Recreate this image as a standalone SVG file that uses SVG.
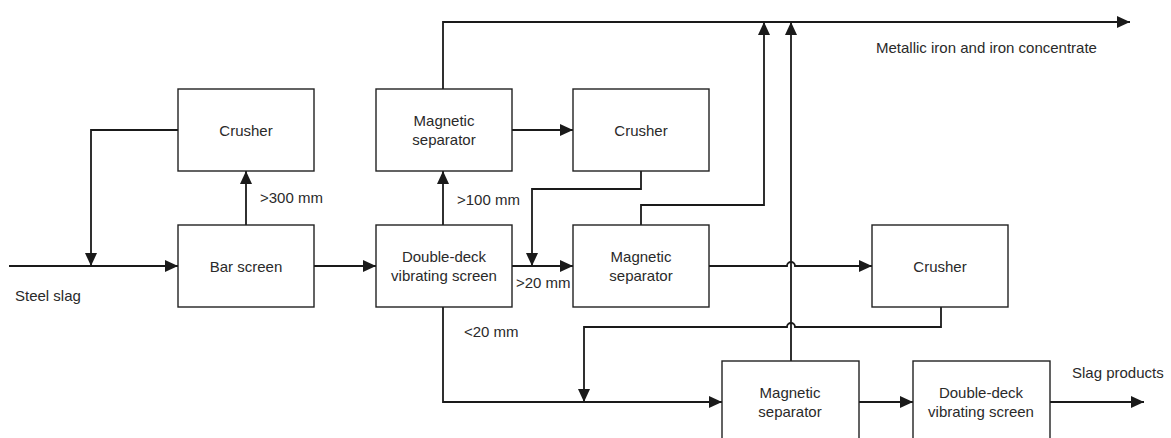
<svg xmlns="http://www.w3.org/2000/svg" width="1171" height="438" viewBox="0 0 1171 438">
<style>
.box{fill:#fff;stroke:#222;stroke-width:1.4}
.c{fill:none;stroke:#1a1a1a;stroke-width:1.8}
text{font-family:"Liberation Sans",Arial,sans-serif;font-size:15px;fill:#2a2a2a}
.m{text-anchor:middle}
</style>
<defs>
<marker id="ah" markerUnits="userSpaceOnUse" markerWidth="13" markerHeight="12" refX="13" refY="6" orient="auto">
<path d="M0,0 L13,6 L0,12 z" fill="#1a1a1a"/>
</marker>
</defs>
<rect width="1171" height="438" fill="#fff"/>
<g id="connectors">
<path class="c" d="M9,266 H178" marker-end="url(#ah)"/>
<path class="c" d="M246,225 V171" marker-end="url(#ah)"/>
<path class="c" d="M178,130 H91 V266" marker-end="url(#ah)"/>
<path class="c" d="M314,266 H376" marker-end="url(#ah)"/>
<path class="c" d="M443,225 V171" marker-end="url(#ah)"/>
<path class="c" d="M443,89 V22 H1130" marker-end="url(#ah)"/>
<path class="c" d="M512,130 H573" marker-end="url(#ah)"/>
<path class="c" d="M641,171 V189 H532 V266" marker-end="url(#ah)"/>
<path class="c" d="M512,266 H573" marker-end="url(#ah)"/>
<path class="c" d="M641,225 V205 H764 V22" marker-end="url(#ah)"/>
<path class="c" d="M709,266 H787 A4,4 0 0 1 795,266 H872" marker-end="url(#ah)"/>
<path class="c" d="M941,307 V327 H795 A4,4 0 0 0 787,327 H584 V402" marker-end="url(#ah)"/>
<path class="c" d="M443,307 V402 H722" marker-end="url(#ah)"/>
<path class="c" d="M791,361 V22" marker-end="url(#ah)"/>
<path class="c" d="M859,402 H913" marker-end="url(#ah)"/>
<path class="c" d="M1050,402 H1144" marker-end="url(#ah)"/>
</g>
<g id="crusher1"><rect class="box" x="178" y="89" width="136" height="82"/><text class="m" x="246" y="135.5">Crusher</text></g>
<g id="barscreen"><rect class="box" x="178" y="225" width="136" height="82"/><text class="m" x="246" y="271.5">Bar screen</text></g>
<g id="magsep1"><rect class="box" x="376" y="89" width="136" height="82"/><text class="m" x="444" y="125.5">Magnetic</text><text class="m" x="444" y="144.5">separator</text></g>
<g id="crusher2"><rect class="box" x="573" y="89" width="136" height="82"/><text class="m" x="641" y="135.5">Crusher</text></g>
<g id="ddscreen1"><rect class="box" x="376" y="225" width="136" height="82"/><text class="m" x="444" y="261.5">Double-deck</text><text class="m" x="444" y="280.5">vibrating screen</text></g>
<g id="magsep2"><rect class="box" x="573" y="225" width="136" height="82"/><text class="m" x="641" y="261.5">Magnetic</text><text class="m" x="641" y="280.5">separator</text></g>
<g id="crusher3"><rect class="box" x="872" y="225" width="136" height="82"/><text class="m" x="940" y="271.5">Crusher</text></g>
<g id="magsep3"><rect class="box" x="722" y="361" width="137" height="82"/><text class="m" x="790" y="397.5">Magnetic</text><text class="m" x="790" y="416.5">separator</text></g>
<g id="ddscreen2"><rect class="box" x="913" y="361" width="137" height="82"/><text class="m" x="981" y="397.5">Double-deck</text><text class="m" x="981" y="416.5">vibrating screen</text></g>
<g id="labels">
<text x="260" y="203">&gt;300 mm</text>
<text x="457" y="205">&gt;100 mm</text>
<text x="516" y="287.5">&gt;20 mm</text>
<text x="464" y="337">&lt;20 mm</text>
<text x="15" y="300.5">Steel slag</text>
<text x="876" y="53.3">Metallic iron and iron concentrate</text>
<text x="1072" y="377.5">Slag products</text>
</g>
</svg>
